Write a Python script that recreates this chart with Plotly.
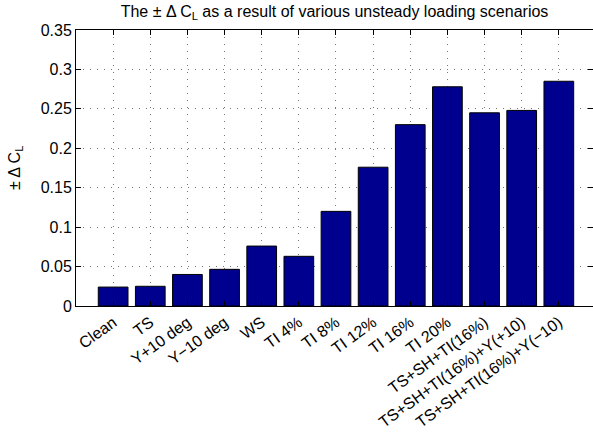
import plotly.graph_objects as go

categories = ["Clean", "TS", "Y+10 deg", "Y\u221210 deg", "WS", "TI 4%", "TI 8%", "TI 12%",
              "TI 16%", "TI 20%", "TS+SH+TI(16%)", "TS+SH+TI(16%)+Y(+10)", "TS+SH+TI(16%)+Y(\u221210)"]
delta_cl = [0.024, 0.025, 0.040, 0.0465, 0.076, 0.063, 0.120, 0.176, 0.230, 0.278, 0.245, 0.248, 0.285]
positions = list(range(1, len(categories) + 1))
y_ticks = [0, 0.05, 0.1, 0.15, 0.2, 0.25, 0.3, 0.35]
y_tick_labels = ["0", "0.05", "0.1", "0.15", "0.2", "0.25", "0.3", "0.35"]

font = "Liberation Sans, Arial, Helvetica, sans-serif"
grid_dash = "1px,6px"
fs = 16

fig = go.Figure(go.Bar(
    x=positions, y=delta_cl, width=0.8,
    marker=dict(color="#00008F", line=dict(color="black", width=1)),
))

fig.update_layout(
    width=593, height=436,
    margin=dict(l=76, r=0, t=30, b=130),
    paper_bgcolor="white", plot_bgcolor="white",
    font=dict(family=font, size=fs, color="black"),
    showlegend=False,
    title=dict(text="The \u00b1 \u0394 C<sub>L</sub> as a result of various unsteady loading scenarios",
               x=0.5, xanchor="center", xref="paper", y=0.975, yanchor="middle",
               font=dict(family=font, size=fs, color="black")),
    annotations=[dict(text="\u00b1 \u0394 C<sub>L</sub>", textangle=-90,
                      xref="paper", yref="paper", x=-0.118, y=0.5,
                      xanchor="center", yanchor="middle", showarrow=False,
                      font=dict(family=font, size=fs, color="black"))],
)

fig.update_xaxes(
    range=[0, 13.92], tickvals=positions, ticktext=categories, tickangle=-36,
    showline=True, linecolor="black", linewidth=1, mirror="ticks",
    ticks="inside", ticklen=5, tickcolor="black",
    showgrid=True, gridcolor="#777", griddash=grid_dash, gridwidth=1,
    zeroline=False, tickfont=dict(size=fs), automargin=False,
)
fig.update_yaxes(
    range=[0, 0.35], tickvals=y_ticks, ticktext=y_tick_labels,
    showline=True, linecolor="black", linewidth=1, mirror="ticks",
    ticks="inside", ticklen=5, tickcolor="black",
    showgrid=True, gridcolor="#777", griddash=grid_dash, gridwidth=1,
    zeroline=False, tickfont=dict(size=fs), automargin=False,
)

fig.write_html("out.html", config={"displayModeBar": False},
               post_script="document.body.style.margin='0';")
